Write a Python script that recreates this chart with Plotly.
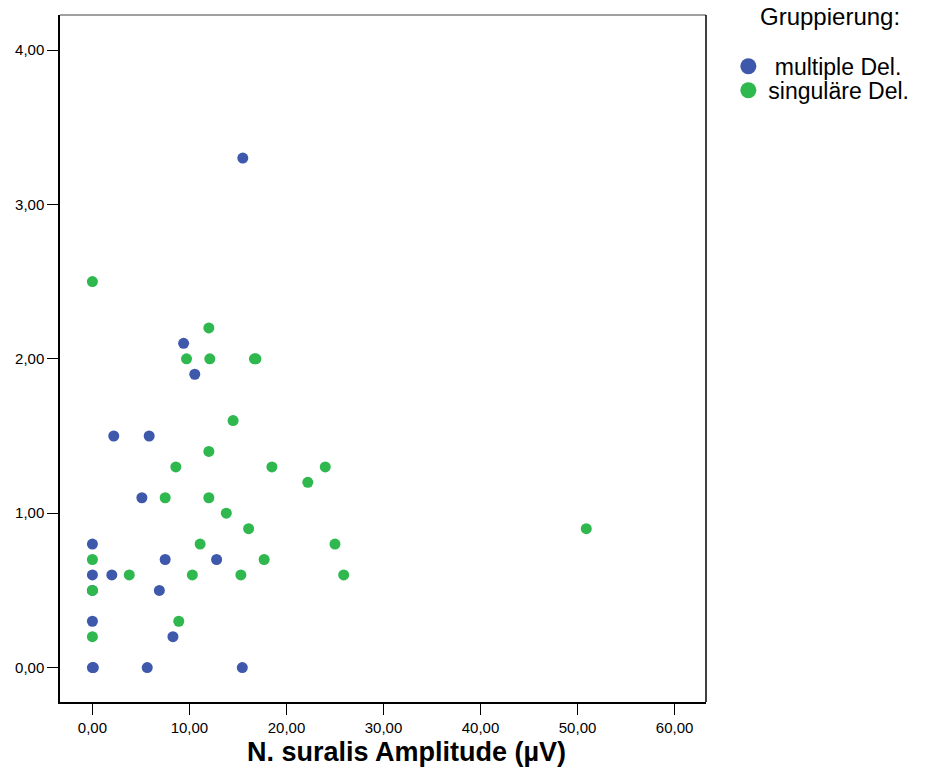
import plotly.graph_objects as go

# ---- data ----
multi_x = [15.5, 9.4, 10.55, 2.2, 5.85, 5.1, 0.0, 0.0, 2.0, 7.5, 12.8, 6.9, 0.0, 0.0, 8.3, 0.0, 0.1, 5.65, 15.45]
multi_y = [3.3, 2.1, 1.9, 1.5, 1.5, 1.1, 0.8, 0.6, 0.6, 0.7, 0.7, 0.5, 0.5, 0.3, 0.2, 0.0, 0.0, 0.0, 0.0]

sing_x = [0.0, 12.0, 9.7, 12.1, 16.7, 16.85, 14.5, 12.0, 8.6, 18.5, 24.0, 22.2, 7.5, 12.0,
          13.8, 16.1, 50.9, 11.1, 25.0, 17.7, 0.0, 3.8, 10.3, 15.3, 25.9, 0.0, 8.9, 0.0]
sing_y = [2.5, 2.2, 2.0, 2.0, 2.0, 2.0, 1.6, 1.4, 1.3, 1.3, 1.3, 1.2, 1.1, 1.1,
          1.0, 0.9, 0.9, 0.8, 0.8, 0.7, 0.7, 0.6, 0.6, 0.6, 0.6, 0.5, 0.3, 0.2]

group_names = ["\u00a0multiple Del.", "singuläre Del."]
group_colors = ["#3E58AC", "#2EB84E"]

x_ticks = [0, 10, 20, 30, 40, 50, 60]
y_ticks = [0, 1, 2, 3, 4]

x_title = "N. suralis Amplitude (µV)"
legend_title = "Gruppierung:"

FONT = "Liberation Sans, Arial, sans-serif"

fig = go.Figure()
fig.add_trace(go.Scatter(x=multi_x, y=multi_y, mode="markers", name=group_names[0],
                         marker=dict(color=group_colors[0], size=11, line=dict(width=0)),
                         showlegend=False))
fig.add_trace(go.Scatter(x=sing_x, y=sing_y, mode="markers", name=group_names[1],
                         marker=dict(color=group_colors[1], size=11, line=dict(width=0)),
                         showlegend=False))
# legend entries (larger symbols as in the reference legend)
fig.add_trace(go.Scatter(x=[None], y=[None], mode="markers", name=group_names[0],
                         marker=dict(color=group_colors[0], size=16, line=dict(width=0)),
                         legend="legend"))
fig.add_trace(go.Scatter(x=[None], y=[None], mode="markers", name=group_names[1],
                         marker=dict(color=group_colors[1], size=16, line=dict(width=0)),
                         legend="legend2"))

axis_common = dict(showgrid=False, zeroline=False, showline=True, linecolor="black", linewidth=1.5,
                   ticks="outside", ticklen=11, tickwidth=1, tickcolor="black",
                   tickfont=dict(family=FONT, size=15, color="black"), tickformat=".2f")

legend_font = dict(family=FONT, size=23, color="black")

fig.update_layout(
    width=932, height=776,
    margin=dict(l=60, r=226, t=15, b=74),
    paper_bgcolor="white", plot_bgcolor="white",
    separators=",.",
    font=dict(family=FONT, color="black"),
    xaxis=dict(range=[-3.34, 63.24], tickvals=x_ticks, **axis_common),
    yaxis=dict(range=[-0.223, 4.227], tickvals=y_ticks, **axis_common),
    showlegend=True,
    legend=dict(x=1.0346, y=0.9253, xanchor="left", yanchor="middle",
                font=legend_font, bgcolor="rgba(0,0,0,0)"),
    legend2=dict(x=1.0346, y=0.8904, xanchor="left", yanchor="middle",
                 font=legend_font, bgcolor="rgba(0,0,0,0)"),
    annotations=[
        dict(text=x_title, xref="paper", yref="paper", x=0.537, y=-0.073,
             xanchor="center", yanchor="middle", showarrow=False,
             font=dict(family=FONT, size=27, color="black", weight="bold")),
        dict(text=legend_title, xref="paper", yref="paper", x=1.1926, y=0.998,
             xanchor="center", yanchor="middle", showarrow=False,
             font=dict(family=FONT, size=24, color="black")),
    ],
    shapes=[
        dict(type="line", xref="paper", yref="paper", x0=0, x1=1, y0=1, y1=1,
             line=dict(color="#808080", width=1.5)),
        dict(type="line", xref="paper", yref="paper", x0=1, x1=1, y0=0, y1=1,
             line=dict(color="black", width=1.5)),
    ],
)

fig.write_html("out.html")
